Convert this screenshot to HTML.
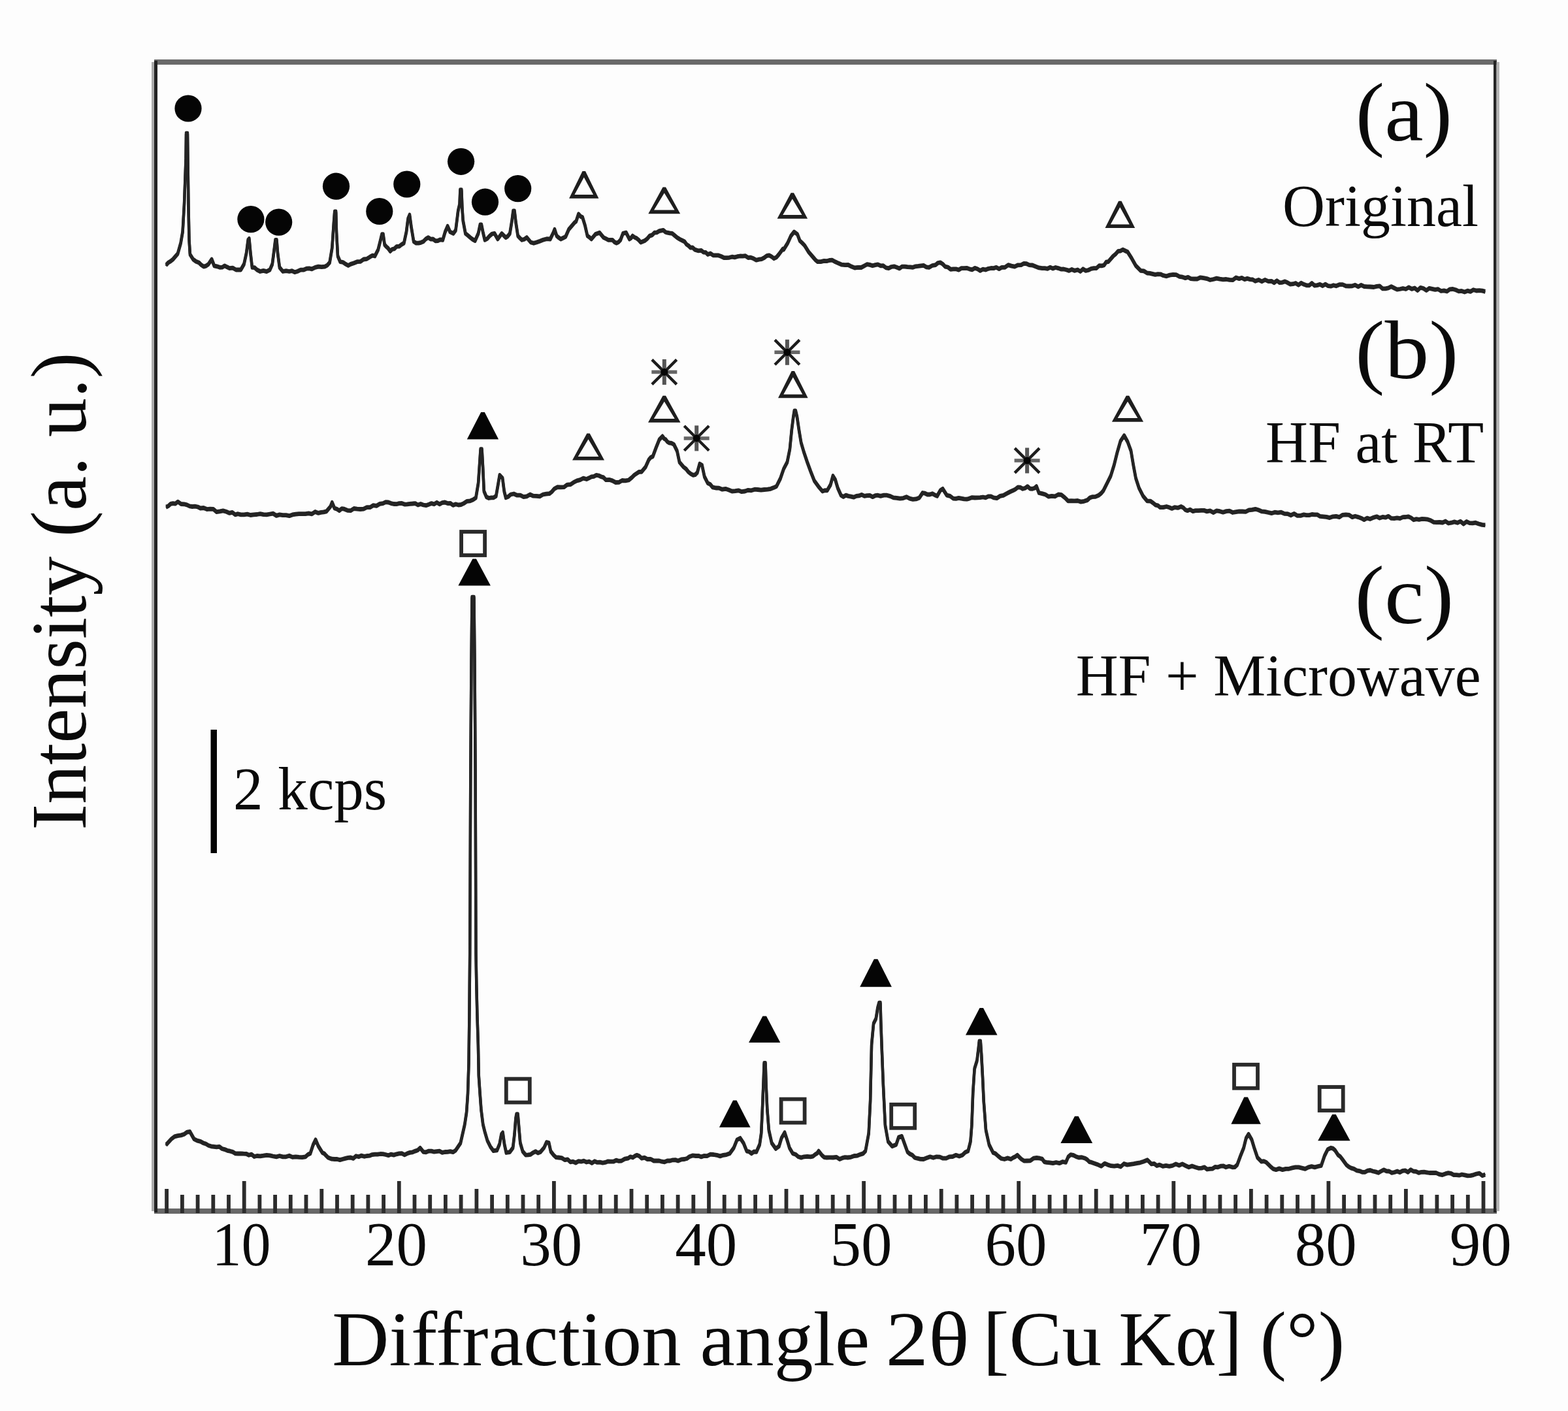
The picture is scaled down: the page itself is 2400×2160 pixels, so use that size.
<!DOCTYPE html>
<html lang="en"><head><meta charset="utf-8"><title>XRD patterns</title>
<style>html,body{margin:0;padding:0;background:#fdfdfd;}body{width:2400px;height:2160px;overflow:hidden;}svg{display:block;}text{font-family:"Liberation Serif", "DejaVu Serif", serif;fill:#0a0a0a;}</style></head><body>
<svg width="2400" height="2160" viewBox="0 0 2400 2160">
<rect width="2400" height="2160" fill="#fdfdfd"/>
<g id="frame">
<rect x="236" y="91" width="2055" height="8" fill="#6a6a6a"/>
<rect x="236" y="1850" width="2055" height="8" fill="#686868"/>
<rect x="232" y="95" width="4.5" height="1759" fill="#ababab"/>
<rect x="236" y="93" width="5" height="1763" fill="#232323"/>
<rect x="2286" y="93" width="4.6" height="1763" fill="#232323"/>
<rect x="2290.6" y="95" width="4.4" height="1759" fill="#b4b4b4"/>
</g>
<g id="ticks" fill="#2c2c2c">
<rect x="252.2" y="1820" width="5.8" height="37"/>
<rect x="276.0" y="1829" width="5.8" height="28"/>
<rect x="299.7" y="1829" width="5.8" height="28"/>
<rect x="323.4" y="1829" width="5.8" height="28"/>
<rect x="347.1" y="1829" width="5.8" height="28"/>
<rect x="370.8" y="1808" width="5.8" height="49"/>
<rect x="394.5" y="1829" width="5.8" height="28"/>
<rect x="418.2" y="1829" width="5.8" height="28"/>
<rect x="441.9" y="1829" width="5.8" height="28"/>
<rect x="465.6" y="1829" width="5.8" height="28"/>
<rect x="489.4" y="1820" width="5.8" height="37"/>
<rect x="513.1" y="1829" width="5.8" height="28"/>
<rect x="536.8" y="1829" width="5.8" height="28"/>
<rect x="560.5" y="1829" width="5.8" height="28"/>
<rect x="584.2" y="1829" width="5.8" height="28"/>
<rect x="607.9" y="1808" width="5.8" height="49"/>
<rect x="631.6" y="1829" width="5.8" height="28"/>
<rect x="655.3" y="1829" width="5.8" height="28"/>
<rect x="679.0" y="1829" width="5.8" height="28"/>
<rect x="702.7" y="1829" width="5.8" height="28"/>
<rect x="726.5" y="1820" width="5.8" height="37"/>
<rect x="750.2" y="1829" width="5.8" height="28"/>
<rect x="773.9" y="1829" width="5.8" height="28"/>
<rect x="797.6" y="1829" width="5.8" height="28"/>
<rect x="821.3" y="1829" width="5.8" height="28"/>
<rect x="845.0" y="1808" width="5.8" height="49"/>
<rect x="868.7" y="1829" width="5.8" height="28"/>
<rect x="892.4" y="1829" width="5.8" height="28"/>
<rect x="916.1" y="1829" width="5.8" height="28"/>
<rect x="939.8" y="1829" width="5.8" height="28"/>
<rect x="963.6" y="1820" width="5.8" height="37"/>
<rect x="987.3" y="1829" width="5.8" height="28"/>
<rect x="1011.0" y="1829" width="5.8" height="28"/>
<rect x="1034.7" y="1829" width="5.8" height="28"/>
<rect x="1058.4" y="1829" width="5.8" height="28"/>
<rect x="1082.1" y="1808" width="5.8" height="49"/>
<rect x="1105.8" y="1829" width="5.8" height="28"/>
<rect x="1129.5" y="1829" width="5.8" height="28"/>
<rect x="1153.2" y="1829" width="5.8" height="28"/>
<rect x="1176.9" y="1829" width="5.8" height="28"/>
<rect x="1200.6" y="1820" width="5.8" height="37"/>
<rect x="1224.4" y="1829" width="5.8" height="28"/>
<rect x="1248.1" y="1829" width="5.8" height="28"/>
<rect x="1271.8" y="1829" width="5.8" height="28"/>
<rect x="1295.5" y="1829" width="5.8" height="28"/>
<rect x="1319.2" y="1808" width="5.8" height="49"/>
<rect x="1342.9" y="1829" width="5.8" height="28"/>
<rect x="1366.6" y="1829" width="5.8" height="28"/>
<rect x="1390.3" y="1829" width="5.8" height="28"/>
<rect x="1414.0" y="1829" width="5.8" height="28"/>
<rect x="1437.8" y="1820" width="5.8" height="37"/>
<rect x="1461.5" y="1829" width="5.8" height="28"/>
<rect x="1485.2" y="1829" width="5.8" height="28"/>
<rect x="1508.9" y="1829" width="5.8" height="28"/>
<rect x="1532.6" y="1829" width="5.8" height="28"/>
<rect x="1556.3" y="1808" width="5.8" height="49"/>
<rect x="1580.0" y="1829" width="5.8" height="28"/>
<rect x="1603.7" y="1829" width="5.8" height="28"/>
<rect x="1627.4" y="1829" width="5.8" height="28"/>
<rect x="1651.1" y="1829" width="5.8" height="28"/>
<rect x="1674.8" y="1820" width="5.8" height="37"/>
<rect x="1698.6" y="1829" width="5.8" height="28"/>
<rect x="1722.3" y="1829" width="5.8" height="28"/>
<rect x="1746.0" y="1829" width="5.8" height="28"/>
<rect x="1769.7" y="1829" width="5.8" height="28"/>
<rect x="1793.4" y="1808" width="5.8" height="49"/>
<rect x="1817.1" y="1829" width="5.8" height="28"/>
<rect x="1840.8" y="1829" width="5.8" height="28"/>
<rect x="1864.5" y="1829" width="5.8" height="28"/>
<rect x="1888.2" y="1829" width="5.8" height="28"/>
<rect x="1912.0" y="1820" width="5.8" height="37"/>
<rect x="1935.7" y="1829" width="5.8" height="28"/>
<rect x="1959.4" y="1829" width="5.8" height="28"/>
<rect x="1983.1" y="1829" width="5.8" height="28"/>
<rect x="2006.8" y="1829" width="5.8" height="28"/>
<rect x="2030.5" y="1808" width="5.8" height="49"/>
<rect x="2054.2" y="1829" width="5.8" height="28"/>
<rect x="2077.9" y="1829" width="5.8" height="28"/>
<rect x="2101.6" y="1829" width="5.8" height="28"/>
<rect x="2125.3" y="1829" width="5.8" height="28"/>
<rect x="2149.0" y="1820" width="5.8" height="37"/>
<rect x="2172.8" y="1829" width="5.8" height="28"/>
<rect x="2196.5" y="1829" width="5.8" height="28"/>
<rect x="2220.2" y="1829" width="5.8" height="28"/>
<rect x="2243.9" y="1829" width="5.8" height="28"/>
<rect x="2267.6" y="1808" width="5.8" height="49"/>
</g>
<g id="curves" fill="none" stroke="#242424" stroke-width="4.4" stroke-linejoin="round" stroke-linecap="butt">
<path d="M254.1,405.9 L257.6,402.0 L261.2,399.8 L264.7,397.0 L272.1,388.3 L276.6,372.2 L279.6,354.9 L282.0,312.9 L284.5,243.6 L285.0,204.1 L287.0,204.1 L287.5,243.6 L288.5,317.8 L289.5,367.3 L290.9,389.5 L295.6,397.0 L300.0,400.3 L304.3,401.9 L308.0,405.5 L311.7,408.1 L315.4,407.1 L319.1,404.4 L324.1,397.0 L327.8,406.8 L332.1,407.8 L336.4,409.3 L340.1,409.2 L343.9,406.8 L347.6,408.8 L351.3,410.6 L356.2,410.1 L361.2,413.0 L364.9,412.8 L368.6,413.0 L373.5,404.4 L377.2,387.1 L379.7,367.3 L381.4,365.3 L383.4,387.1 L385.9,409.3 L389.6,409.6 L393.3,413.0 L398.2,415.5 L403.2,414.3 L408.1,415.6 L413.1,413.0 L416.8,404.4 L420.0,379.6 L421.5,367.3 L423.5,367.3 L425.0,387.1 L427.9,409.3 L432.9,415.5 L437.9,414.7 L442.8,415.5 L446.9,414.6 L451.0,416.7 L455.1,415.5 L460.1,413.1 L465.0,413.0 L469.1,411.2 L473.3,410.8 L477.4,411.8 L482.4,409.4 L487.3,408.1 L492.2,408.7 L497.2,408.1 L500.9,406.2 L504.6,401.9 L508.3,379.6 L510.8,342.6 L512.2,324.0 L514.2,324.0 L515.0,354.9 L517.0,392.0 L520.7,400.7 L525.0,401.5 L529.3,404.4 L533.0,406.5 L536.7,404.4 L541.7,402.8 L546.6,400.7 L551.5,400.4 L556.5,397.0 L561.5,396.3 L566.4,393.2 L570.1,391.2 L573.8,392.0 L578.8,382.1 L582.5,367.3 L584.5,358.6 L586.5,358.6 L588.7,374.7 L591.2,377.5 L593.6,379.6 L597.3,384.6 L600.4,381.5 L603.5,380.9 L607.2,377.3 L610.9,377.2 L614.6,374.4 L618.3,372.2 L622.0,354.9 L624.5,335.1 L627.0,329.0 L629.5,347.5 L633.2,369.8 L636.9,372.1 L640.6,372.2 L644.3,371.3 L648.0,369.8 L651.7,365.9 L655.4,363.6 L659.1,366.1 L662.8,366.0 L666.5,368.8 L670.3,368.5 L674.0,366.8 L677.7,367.3 L681.4,354.9 L685.1,346.3 L688.8,354.9 L693.8,357.4 L697.5,352.4 L701.2,322.8 L703.5,312.9 L704.4,290.6 L706.4,290.6 L707.4,317.8 L708.7,337.6 L712.4,357.4 L716.1,360.4 L719.8,363.6 L723.5,366.5 L727.2,368.5 L732.1,357.4 L734.9,343.8 L736.9,343.8 L739.1,354.9 L742.0,367.3 L745.8,365.3 L749.5,361.1 L753.2,358.0 L756.9,357.4 L761.8,366.0 L768.0,357.4 L771.1,360.6 L774.2,363.6 L777.3,361.6 L780.4,357.4 L783.6,337.6 L785.5,322.8 L787.5,322.8 L789.5,340.1 L792.7,361.1 L795.8,364.5 L798.9,367.3 L802.6,366.2 L806.3,363.6 L812.5,371.0 L816.9,372.3 L821.2,371.0 L826.2,369.2 L831.1,367.3 L836.7,365.7 L842.2,366.0 L846.4,357.4 L848.9,351.2 L852.1,361.1 L855.2,363.8 L858.3,366.0 L862.0,364.2 L865.7,362.3 L870.6,351.2 L876.8,343.8 L879.3,340.9 L881.8,338.8 L885.5,327.7 L888.5,331.2 L891.6,332.7 L895.4,345.0 L899.1,361.1 L902.2,363.2 L905.2,366.0 L911.4,358.6 L917.6,356.2 L923.8,363.6 L927.5,365.4 L931.2,367.3 L937.4,367.3 L940.5,370.5 L943.6,372.2 L946.7,370.6 L949.8,367.3 L953.5,357.4 L958.4,356.2 L963.4,366.0 L965.8,364.4 L968.3,361.1 L971.4,363.4 L974.5,364.8 L977.6,367.3 L980.7,371.0 L986.8,368.5 L990.5,365.6 L994.3,361.1 L998.0,359.9 L1001.7,356.2 L1005.4,355.8 L1009.1,353.7 L1015.3,352.4 L1018.4,355.2 L1021.5,356.2 L1025.2,356.9 L1028.9,357.4 L1032.6,360.5 L1036.3,363.6 L1040.7,366.3 L1045.0,368.5 L1047.9,370.0 L1050.7,373.9 L1053.6,375.9 L1056.9,379.1 L1060.2,379.0 L1063.5,382.1 L1068.5,383.8 L1073.4,383.4 L1076.7,386.1 L1080.0,386.3 L1083.3,389.5 L1087.4,388.0 L1091.5,390.8 L1095.6,390.8 L1099.7,390.9 L1103.9,392.5 L1108.0,394.5 L1112.1,394.6 L1116.3,394.3 L1120.4,393.2 L1124.5,393.9 L1128.6,392.7 L1132.7,392.0 L1136.8,392.1 L1141.0,391.7 L1145.1,394.5 L1149.2,394.2 L1153.4,395.8 L1157.5,398.2 L1161.6,397.1 L1165.7,396.6 L1169.8,394.5 L1173.5,391.6 L1177.3,390.8 L1181.0,392.9 L1184.7,395.7 L1188.4,393.8 L1192.1,389.5 L1198.3,380.9 L1199.5,382.1 L1205.6,372.2 L1210.6,361.1 L1215.5,354.9 L1220.5,358.6 L1224.2,368.5 L1227.9,372.0 L1231.6,375.9 L1237.8,385.8 L1245.2,394.5 L1248.3,398.1 L1251.4,400.7 L1256.3,400.6 L1261.3,399.4 L1265.4,399.7 L1269.5,398.5 L1273.6,398.2 L1278.5,400.8 L1283.5,403.1 L1288.5,405.2 L1293.4,405.6 L1298.3,405.5 L1303.3,408.1 L1308.2,410.0 L1313.2,409.3 L1318.2,409.5 L1323.1,406.8 L1327.2,404.7 L1331.4,405.4 L1335.5,406.8 L1339.6,405.6 L1343.7,404.9 L1347.8,406.8 L1351.9,406.7 L1356.1,409.9 L1360.2,410.6 L1364.3,408.5 L1368.5,407.8 L1372.6,409.3 L1376.7,410.9 L1380.8,408.1 L1384.9,408.1 L1389.0,408.7 L1393.2,408.8 L1397.3,409.3 L1401.4,407.8 L1405.5,407.4 L1409.6,406.8 L1413.7,406.4 L1417.9,408.8 L1422.0,409.3 L1427.0,406.5 L1431.9,405.6 L1435.6,402.5 L1439.3,401.9 L1443.0,404.2 L1446.7,408.1 L1450.8,409.0 L1455.0,412.3 L1459.1,411.8 L1463.2,411.8 L1467.4,413.1 L1471.5,410.6 L1475.6,410.6 L1479.7,410.4 L1483.8,411.8 L1487.9,412.8 L1492.1,410.4 L1496.2,411.8 L1500.3,414.4 L1504.5,412.1 L1508.6,413.0 L1512.7,411.3 L1516.8,410.5 L1520.9,410.6 L1525.0,409.3 L1529.2,411.6 L1533.3,409.3 L1538.2,409.3 L1543.2,405.6 L1548.2,407.1 L1553.1,408.1 L1558.0,405.8 L1563.0,405.6 L1567.1,403.3 L1571.2,403.7 L1575.3,405.6 L1580.2,406.0 L1585.2,408.1 L1590.2,409.9 L1595.1,410.6 L1599.2,410.7 L1603.4,411.3 L1607.5,409.3 L1611.6,411.1 L1615.7,409.5 L1619.8,410.6 L1623.9,412.1 L1628.1,412.0 L1632.2,413.0 L1636.3,414.4 L1640.5,412.5 L1644.6,414.3 L1649.5,413.0 L1653.6,415.5 L1657.7,411.8 L1661.8,414.3 L1665.9,413.5 L1670.1,411.3 L1674.2,410.6 L1678.3,410.5 L1682.4,406.7 L1686.5,406.8 L1689.8,406.0 L1693.1,401.2 L1696.4,400.7 L1703.9,392.0 L1707.6,388.8 L1711.3,384.6 L1715.0,384.1 L1718.7,382.1 L1722.4,384.0 L1726.1,385.8 L1732.3,395.7 L1738.5,406.8 L1745.9,414.3 L1750.8,414.9 L1755.8,418.0 L1759.9,418.3 L1764.1,419.4 L1768.2,420.4 L1772.3,419.6 L1776.4,419.8 L1780.5,421.7 L1785.5,422.8 L1790.4,421.1 L1795.4,420.4 L1800.3,420.7 L1805.3,423.4 L1810.2,424.2 L1814.3,425.6 L1818.5,424.3 L1822.6,426.6 L1827.5,427.0 L1832.5,427.0 L1837.4,424.8 L1842.4,425.7 L1847.3,426.6 L1852.2,428.5 L1857.2,427.5 L1862.1,426.1 L1867.1,427.2 L1872.0,427.9 L1876.9,427.5 L1881.9,428.3 L1886.8,428.7 L1891.8,425.0 L1896.7,426.6 L1900.8,425.3 L1905.0,427.6 L1909.1,426.4 L1913.2,427.6 L1917.4,428.0 L1921.5,430.3 L1926.4,428.4 L1931.4,430.9 L1936.3,428.4 L1941.3,430.6 L1946.2,430.3 L1950.3,432.8 L1954.4,429.6 L1958.6,432.7 L1962.7,432.3 L1966.8,430.9 L1970.9,432.8 L1975.0,435.2 L1979.1,434.7 L1983.2,433.5 L1987.4,436.2 L1991.5,433.2 L1995.6,435.3 L1999.7,436.8 L2003.9,436.9 L2008.0,433.5 L2012.1,437.2 L2016.3,436.6 L2020.4,435.3 L2024.5,437.5 L2028.6,435.2 L2032.8,437.6 L2036.9,438.2 L2041.0,436.7 L2045.1,437.8 L2050.0,435.7 L2055.0,435.6 L2059.9,437.8 L2064.9,438.0 L2069.8,437.8 L2074.3,436.3 L2078.9,438.8 L2083.4,436.4 L2087.9,438.5 L2092.5,438.8 L2097.0,439.0 L2102.8,439.5 L2107.2,438.4 L2111.7,437.9 L2116.2,441.9 L2120.6,441.9 L2125.1,440.9 L2129.5,438.6 L2134.0,441.0 L2138.4,443.2 L2142.9,442.5 L2147.3,441.5 L2151.8,442.5 L2156.3,439.8 L2160.8,442.4 L2165.3,441.0 L2169.8,444.6 L2174.2,440.3 L2178.7,441.5 L2183.2,444.6 L2187.7,441.3 L2192.2,442.3 L2196.7,443.4 L2201.2,442.7 L2205.7,445.5 L2210.2,444.8 L2214.7,446.0 L2219.2,442.8 L2223.7,442.5 L2228.2,443.8 L2232.7,445.9 L2237.2,445.4 L2241.7,447.0 L2246.2,445.2 L2250.7,446.4 L2255.3,443.7 L2259.8,445.0 L2264.3,444.7 L2268.9,445.2 L2273.4,446.4" transform="translate(0 -1.2)"/>
<path d="M254.1,405.9 L257.6,402.0 L261.2,399.8 L264.7,397.0 L272.1,388.3 L276.6,372.2 L279.6,354.9 L282.0,312.9 L284.5,243.6 L285.0,204.1 L287.0,204.1 L287.5,243.6 L288.5,317.8 L289.5,367.3 L290.9,389.5 L295.6,397.0 L300.0,400.3 L304.3,401.9 L308.0,405.5 L311.7,408.1 L315.4,407.1 L319.1,404.4 L324.1,397.0 L327.8,406.8 L332.1,407.8 L336.4,409.3 L340.1,409.2 L343.9,406.8 L347.6,408.8 L351.3,410.6 L356.2,410.1 L361.2,413.0 L364.9,412.8 L368.6,413.0 L373.5,404.4 L377.2,387.1 L379.7,367.3 L381.4,365.3 L383.4,387.1 L385.9,409.3 L389.6,409.6 L393.3,413.0 L398.2,415.5 L403.2,414.3 L408.1,415.6 L413.1,413.0 L416.8,404.4 L420.0,379.6 L421.5,367.3 L423.5,367.3 L425.0,387.1 L427.9,409.3 L432.9,415.5 L437.9,414.7 L442.8,415.5 L446.9,414.6 L451.0,416.7 L455.1,415.5 L460.1,413.1 L465.0,413.0 L469.1,411.2 L473.3,410.8 L477.4,411.8 L482.4,409.4 L487.3,408.1 L492.2,408.7 L497.2,408.1 L500.9,406.2 L504.6,401.9 L508.3,379.6 L510.8,342.6 L512.2,324.0 L514.2,324.0 L515.0,354.9 L517.0,392.0 L520.7,400.7 L525.0,401.5 L529.3,404.4 L533.0,406.5 L536.7,404.4 L541.7,402.8 L546.6,400.7 L551.5,400.4 L556.5,397.0 L561.5,396.3 L566.4,393.2 L570.1,391.2 L573.8,392.0 L578.8,382.1 L582.5,367.3 L584.5,358.6 L586.5,358.6 L588.7,374.7 L591.2,377.5 L593.6,379.6 L597.3,384.6 L600.4,381.5 L603.5,380.9 L607.2,377.3 L610.9,377.2 L614.6,374.4 L618.3,372.2 L622.0,354.9 L624.5,335.1 L627.0,329.0 L629.5,347.5 L633.2,369.8 L636.9,372.1 L640.6,372.2 L644.3,371.3 L648.0,369.8 L651.7,365.9 L655.4,363.6 L659.1,366.1 L662.8,366.0 L666.5,368.8 L670.3,368.5 L674.0,366.8 L677.7,367.3 L681.4,354.9 L685.1,346.3 L688.8,354.9 L693.8,357.4 L697.5,352.4 L701.2,322.8 L703.5,312.9 L704.4,290.6 L706.4,290.6 L707.4,317.8 L708.7,337.6 L712.4,357.4 L716.1,360.4 L719.8,363.6 L723.5,366.5 L727.2,368.5 L732.1,357.4 L734.9,343.8 L736.9,343.8 L739.1,354.9 L742.0,367.3 L745.8,365.3 L749.5,361.1 L753.2,358.0 L756.9,357.4 L761.8,366.0 L768.0,357.4 L771.1,360.6 L774.2,363.6 L777.3,361.6 L780.4,357.4 L783.6,337.6 L785.5,322.8 L787.5,322.8 L789.5,340.1 L792.7,361.1 L795.8,364.5 L798.9,367.3 L802.6,366.2 L806.3,363.6 L812.5,371.0 L816.9,372.3 L821.2,371.0 L826.2,369.2 L831.1,367.3 L836.7,365.7 L842.2,366.0 L846.4,357.4 L848.9,351.2 L852.1,361.1 L855.2,363.8 L858.3,366.0 L862.0,364.2 L865.7,362.3 L870.6,351.2 L876.8,343.8 L879.3,340.9 L881.8,338.8 L885.5,327.7 L888.5,331.2 L891.6,332.7 L895.4,345.0 L899.1,361.1 L902.2,363.2 L905.2,366.0 L911.4,358.6 L917.6,356.2 L923.8,363.6 L927.5,365.4 L931.2,367.3 L937.4,367.3 L940.5,370.5 L943.6,372.2 L946.7,370.6 L949.8,367.3 L953.5,357.4 L958.4,356.2 L963.4,366.0 L965.8,364.4 L968.3,361.1 L971.4,363.4 L974.5,364.8 L977.6,367.3 L980.7,371.0 L986.8,368.5 L990.5,365.6 L994.3,361.1 L998.0,359.9 L1001.7,356.2 L1005.4,355.8 L1009.1,353.7 L1015.3,352.4 L1018.4,355.2 L1021.5,356.2 L1025.2,356.9 L1028.9,357.4 L1032.6,360.5 L1036.3,363.6 L1040.7,366.3 L1045.0,368.5 L1047.9,370.0 L1050.7,373.9 L1053.6,375.9 L1056.9,379.1 L1060.2,379.0 L1063.5,382.1 L1068.5,383.8 L1073.4,383.4 L1076.7,386.1 L1080.0,386.3 L1083.3,389.5 L1087.4,388.0 L1091.5,390.8 L1095.6,390.8 L1099.7,390.9 L1103.9,392.5 L1108.0,394.5 L1112.1,394.6 L1116.3,394.3 L1120.4,393.2 L1124.5,393.9 L1128.6,392.7 L1132.7,392.0 L1136.8,392.1 L1141.0,391.7 L1145.1,394.5 L1149.2,394.2 L1153.4,395.8 L1157.5,398.2 L1161.6,397.1 L1165.7,396.6 L1169.8,394.5 L1173.5,391.6 L1177.3,390.8 L1181.0,392.9 L1184.7,395.7 L1188.4,393.8 L1192.1,389.5 L1198.3,380.9 L1199.5,382.1 L1205.6,372.2 L1210.6,361.1 L1215.5,354.9 L1220.5,358.6 L1224.2,368.5 L1227.9,372.0 L1231.6,375.9 L1237.8,385.8 L1245.2,394.5 L1248.3,398.1 L1251.4,400.7 L1256.3,400.6 L1261.3,399.4 L1265.4,399.7 L1269.5,398.5 L1273.6,398.2 L1278.5,400.8 L1283.5,403.1 L1288.5,405.2 L1293.4,405.6 L1298.3,405.5 L1303.3,408.1 L1308.2,410.0 L1313.2,409.3 L1318.2,409.5 L1323.1,406.8 L1327.2,404.7 L1331.4,405.4 L1335.5,406.8 L1339.6,405.6 L1343.7,404.9 L1347.8,406.8 L1351.9,406.7 L1356.1,409.9 L1360.2,410.6 L1364.3,408.5 L1368.5,407.8 L1372.6,409.3 L1376.7,410.9 L1380.8,408.1 L1384.9,408.1 L1389.0,408.7 L1393.2,408.8 L1397.3,409.3 L1401.4,407.8 L1405.5,407.4 L1409.6,406.8 L1413.7,406.4 L1417.9,408.8 L1422.0,409.3 L1427.0,406.5 L1431.9,405.6 L1435.6,402.5 L1439.3,401.9 L1443.0,404.2 L1446.7,408.1 L1450.8,409.0 L1455.0,412.3 L1459.1,411.8 L1463.2,411.8 L1467.4,413.1 L1471.5,410.6 L1475.6,410.6 L1479.7,410.4 L1483.8,411.8 L1487.9,412.8 L1492.1,410.4 L1496.2,411.8 L1500.3,414.4 L1504.5,412.1 L1508.6,413.0 L1512.7,411.3 L1516.8,410.5 L1520.9,410.6 L1525.0,409.3 L1529.2,411.6 L1533.3,409.3 L1538.2,409.3 L1543.2,405.6 L1548.2,407.1 L1553.1,408.1 L1558.0,405.8 L1563.0,405.6 L1567.1,403.3 L1571.2,403.7 L1575.3,405.6 L1580.2,406.0 L1585.2,408.1 L1590.2,409.9 L1595.1,410.6 L1599.2,410.7 L1603.4,411.3 L1607.5,409.3 L1611.6,411.1 L1615.7,409.5 L1619.8,410.6 L1623.9,412.1 L1628.1,412.0 L1632.2,413.0 L1636.3,414.4 L1640.5,412.5 L1644.6,414.3 L1649.5,413.0 L1653.6,415.5 L1657.7,411.8 L1661.8,414.3 L1665.9,413.5 L1670.1,411.3 L1674.2,410.6 L1678.3,410.5 L1682.4,406.7 L1686.5,406.8 L1689.8,406.0 L1693.1,401.2 L1696.4,400.7 L1703.9,392.0 L1707.6,388.8 L1711.3,384.6 L1715.0,384.1 L1718.7,382.1 L1722.4,384.0 L1726.1,385.8 L1732.3,395.7 L1738.5,406.8 L1745.9,414.3 L1750.8,414.9 L1755.8,418.0 L1759.9,418.3 L1764.1,419.4 L1768.2,420.4 L1772.3,419.6 L1776.4,419.8 L1780.5,421.7 L1785.5,422.8 L1790.4,421.1 L1795.4,420.4 L1800.3,420.7 L1805.3,423.4 L1810.2,424.2 L1814.3,425.6 L1818.5,424.3 L1822.6,426.6 L1827.5,427.0 L1832.5,427.0 L1837.4,424.8 L1842.4,425.7 L1847.3,426.6 L1852.2,428.5 L1857.2,427.5 L1862.1,426.1 L1867.1,427.2 L1872.0,427.9 L1876.9,427.5 L1881.9,428.3 L1886.8,428.7 L1891.8,425.0 L1896.7,426.6 L1900.8,425.3 L1905.0,427.6 L1909.1,426.4 L1913.2,427.6 L1917.4,428.0 L1921.5,430.3 L1926.4,428.4 L1931.4,430.9 L1936.3,428.4 L1941.3,430.6 L1946.2,430.3 L1950.3,432.8 L1954.4,429.6 L1958.6,432.7 L1962.7,432.3 L1966.8,430.9 L1970.9,432.8 L1975.0,435.2 L1979.1,434.7 L1983.2,433.5 L1987.4,436.2 L1991.5,433.2 L1995.6,435.3 L1999.7,436.8 L2003.9,436.9 L2008.0,433.5 L2012.1,437.2 L2016.3,436.6 L2020.4,435.3 L2024.5,437.5 L2028.6,435.2 L2032.8,437.6 L2036.9,438.2 L2041.0,436.7 L2045.1,437.8 L2050.0,435.7 L2055.0,435.6 L2059.9,437.8 L2064.9,438.0 L2069.8,437.8 L2074.3,436.3 L2078.9,438.8 L2083.4,436.4 L2087.9,438.5 L2092.5,438.8 L2097.0,439.0 L2102.8,439.5 L2107.2,438.4 L2111.7,437.9 L2116.2,441.9 L2120.6,441.9 L2125.1,440.9 L2129.5,438.6 L2134.0,441.0 L2138.4,443.2 L2142.9,442.5 L2147.3,441.5 L2151.8,442.5 L2156.3,439.8 L2160.8,442.4 L2165.3,441.0 L2169.8,444.6 L2174.2,440.3 L2178.7,441.5 L2183.2,444.6 L2187.7,441.3 L2192.2,442.3 L2196.7,443.4 L2201.2,442.7 L2205.7,445.5 L2210.2,444.8 L2214.7,446.0 L2219.2,442.8 L2223.7,442.5 L2228.2,443.8 L2232.7,445.9 L2237.2,445.4 L2241.7,447.0 L2246.2,445.2 L2250.7,446.4 L2255.3,443.7 L2259.8,445.0 L2264.3,444.7 L2268.9,445.2 L2273.4,446.4" transform="translate(0 1.2)"/>
<path d="M254.1,776.2 L257.6,774.6 L261.2,771.4 L264.7,770.6 L268.4,771.1 L272.1,768.1 L277.1,771.5 L282.0,771.8 L286.1,772.9 L290.3,774.9 L294.4,775.5 L298.5,775.2 L302.7,776.0 L306.8,778.0 L311.7,777.5 L316.7,779.6 L321.6,779.2 L326.5,779.3 L331.5,783.6 L336.4,782.9 L341.4,781.9 L346.3,783.3 L351.3,785.4 L355.6,784.3 L360.0,787.8 L364.3,786.7 L368.6,787.9 L373.6,787.8 L378.5,787.1 L383.4,788.5 L388.4,787.9 L393.3,787.5 L398.3,786.6 L403.2,787.6 L408.2,787.9 L413.1,787.0 L418.0,786.1 L423.0,789.4 L427.9,787.9 L432.8,788.7 L437.8,788.7 L442.8,789.7 L447.7,787.9 L452.6,787.1 L457.6,786.7 L462.6,786.6 L467.5,786.6 L472.4,785.9 L477.4,786.8 L482.4,783.5 L487.3,785.4 L491.4,784.4 L495.5,783.9 L499.6,782.9 L505.8,775.5 L508.3,769.3 L512.0,778.0 L515.7,779.3 L519.4,781.7 L523.1,778.6 L526.8,779.2 L531.8,781.3 L536.7,781.7 L541.7,778.5 L546.6,779.2 L551.5,779.5 L556.5,779.2 L561.5,776.6 L566.4,776.7 L571.3,773.6 L576.3,774.3 L581.2,771.3 L586.2,770.6 L590.3,768.6 L594.5,769.0 L598.6,770.6 L602.7,771.5 L606.8,771.7 L610.9,770.6 L615.0,770.4 L619.2,772.1 L623.3,771.8 L627.4,771.3 L631.5,771.0 L635.6,770.6 L639.7,773.0 L643.9,771.4 L648.0,773.0 L652.1,773.7 L656.3,772.2 L660.4,770.6 L664.5,771.8 L668.6,769.2 L672.7,771.8 L676.8,769.6 L681.0,769.0 L685.1,770.6 L689.2,770.3 L693.4,773.4 L697.5,771.8 L701.6,773.0 L705.7,772.5 L709.8,770.6 L714.8,767.3 L719.7,766.8 L724.0,765.0 L728.4,761.9 L732.1,739.6 L734.6,702.6 L735.6,687.7 L737.6,687.7 L739.1,714.9 L740.8,752.0 L744.5,760.7 L748.2,762.5 L751.9,761.9 L755.6,761.8 L759.3,759.4 L762.3,742.1 L764.8,727.3 L769.2,732.2 L771.7,752.0 L774.2,761.9 L777.9,760.3 L781.6,757.0 L786.5,756.0 L791.5,758.2 L796.5,758.2 L801.4,760.7 L806.3,759.9 L811.3,757.0 L816.2,759.2 L821.2,759.4 L826.2,759.8 L831.1,757.0 L836.0,756.1 L840.9,755.7 L844.6,752.9 L848.4,748.3 L853.3,745.6 L858.3,745.8 L863.2,745.7 L868.2,742.1 L873.1,741.7 L878.0,738.4 L883.0,735.9 L887.9,734.7 L892.8,732.2 L897.8,733.5 L901.5,731.8 L905.2,729.8 L909.0,729.3 L912.7,727.3 L916.4,728.0 L920.1,729.8 L923.8,730.9 L927.5,734.7 L932.5,734.3 L937.4,735.9 L942.3,738.5 L947.3,738.4 L952.2,735.5 L957.2,735.9 L962.2,735.0 L967.1,731.0 L970.8,727.2 L974.5,724.8 L978.2,722.4 L981.9,722.3 L988.1,714.9 L993.0,703.8 L996.1,700.2 L999.2,698.8 L1004.2,685.2 L1009.1,672.9 L1014.0,667.9 L1016.5,671.5 L1019.0,672.9 L1021.5,676.3 L1023.9,677.8 L1027.7,678.4 L1031.4,680.3 L1036.3,690.2 L1040.0,707.5 L1046.2,714.9 L1049.9,717.7 L1053.6,722.3 L1057.3,725.3 L1061.0,727.3 L1064.1,726.7 L1067.2,723.6 L1070.9,710.0 L1074.6,712.4 L1078.3,729.8 L1083.3,739.6 L1087.0,741.4 L1090.7,745.8 L1095.7,747.0 L1100.6,747.1 L1105.5,749.2 L1110.5,748.3 L1115.5,750.0 L1120.4,752.0 L1125.3,751.7 L1130.3,750.8 L1135.2,752.7 L1140.2,752.0 L1145.1,750.3 L1150.0,750.8 L1155.0,749.2 L1159.9,749.5 L1164.8,750.2 L1169.8,749.5 L1174.8,749.1 L1179.7,748.3 L1184.1,746.6 L1188.4,744.6 L1194.6,732.2 L1199.5,717.9 L1204.9,707.5 L1208.9,687.7 L1211.8,658.0 L1214.3,638.3 L1215.8,628.9 L1217.8,628.9 L1220.0,638.3 L1222.9,658.0 L1226.2,677.8 L1230.6,692.7 L1235.6,707.5 L1241.0,722.3 L1246.4,735.9 L1252.6,744.6 L1258.8,752.0 L1262.5,750.7 L1266.2,750.8 L1271.2,742.1 L1274.9,728.5 L1278.6,734.7 L1282.3,747.1 L1287.2,758.2 L1290.9,760.5 L1294.7,758.1 L1298.4,759.4 L1302.5,760.2 L1306.6,761.2 L1310.7,759.4 L1314.8,758.9 L1319.0,757.3 L1323.1,759.4 L1327.2,758.6 L1331.4,758.4 L1335.5,760.7 L1339.6,758.7 L1343.7,758.2 L1347.8,759.4 L1352.8,758.1 L1357.7,758.2 L1362.7,759.6 L1367.6,761.9 L1372.5,762.3 L1377.5,763.1 L1382.5,762.6 L1387.4,760.7 L1392.3,763.2 L1397.3,764.4 L1402.2,763.9 L1407.2,761.9 L1412.1,754.5 L1415.8,755.2 L1419.5,757.0 L1423.2,757.0 L1427.0,755.7 L1430.7,757.7 L1434.4,759.4 L1439.3,750.8 L1443.0,748.3 L1449.2,758.2 L1454.2,759.4 L1459.1,763.1 L1463.2,763.3 L1467.4,762.3 L1471.5,763.1 L1475.6,763.9 L1479.7,764.2 L1483.8,763.1 L1487.9,761.6 L1492.1,762.0 L1496.2,761.9 L1500.3,761.7 L1504.5,761.0 L1508.6,761.9 L1512.7,759.8 L1516.8,759.8 L1520.9,761.9 L1525.8,762.6 L1530.8,759.4 L1535.8,758.4 L1540.7,755.7 L1545.7,753.0 L1550.6,750.8 L1554.3,748.8 L1558.0,745.8 L1561.7,746.2 L1565.4,748.3 L1569.1,747.2 L1572.8,744.6 L1576.5,748.0 L1580.3,748.3 L1583.3,747.3 L1586.4,744.6 L1590.2,754.5 L1595.1,755.6 L1600.0,757.0 L1605.0,760.2 L1609.9,759.4 L1614.8,759.9 L1619.8,757.0 L1624.2,757.3 L1628.5,760.7 L1631.6,763.5 L1634.7,766.8 L1639.7,766.6 L1644.6,766.8 L1649.5,766.5 L1654.4,768.1 L1659.3,767.3 L1664.3,765.6 L1668.0,762.1 L1671.7,760.7 L1676.7,760.4 L1681.6,758.2 L1685.3,755.3 L1689.0,750.8 L1695.2,738.4 L1700.1,728.5 L1705.1,712.4 L1710.0,692.7 L1715.0,675.4 L1720.7,666.7 L1726.1,676.6 L1731.1,690.2 L1734.8,712.4 L1738.5,732.2 L1743.4,747.1 L1749.6,759.4 L1755.8,766.8 L1760.8,767.1 L1765.7,770.6 L1769.0,773.2 L1772.3,773.9 L1775.6,776.7 L1780.5,776.7 L1785.5,775.5 L1789.6,776.7 L1793.7,778.4 L1797.8,776.7 L1802.8,777.4 L1807.7,775.5 L1811.0,777.1 L1814.3,780.4 L1817.6,781.7 L1821.7,780.1 L1825.9,782.7 L1830.0,781.7 L1834.3,781.6 L1838.7,781.3 L1843.0,781.4 L1847.3,782.9 L1852.2,781.9 L1857.2,784.7 L1862.1,781.9 L1867.1,782.7 L1872.0,784.2 L1876.9,782.6 L1881.9,782.1 L1886.8,784.5 L1891.8,783.6 L1896.7,782.9 L1901.7,783.0 L1906.6,783.4 L1911.5,780.8 L1916.5,780.4 L1921.5,779.3 L1926.4,780.8 L1931.4,782.9 L1936.3,783.3 L1941.2,784.5 L1946.2,785.7 L1951.1,784.2 L1956.0,784.8 L1961.0,784.2 L1966.0,786.4 L1970.9,786.6 L1975.8,788.8 L1980.8,786.4 L1985.7,789.3 L1990.7,789.4 L1995.6,787.9 L1999.7,788.6 L2003.9,788.6 L2008.0,787.5 L2012.1,787.8 L2016.3,787.9 L2020.4,790.3 L2025.3,790.8 L2030.3,791.3 L2035.2,792.6 L2040.2,790.8 L2045.1,790.3 L2050.0,791.6 L2055.0,788.3 L2059.9,787.9 L2064.9,788.4 L2069.8,791.6 L2074.3,790.2 L2078.9,791.6 L2083.4,793.2 L2087.9,795.7 L2092.5,793.1 L2097.0,794.5 L2102.8,792.1 L2107.2,790.8 L2111.7,793.0 L2116.2,791.4 L2120.6,792.2 L2125.1,790.3 L2129.5,793.4 L2134.0,793.7 L2138.4,792.9 L2142.9,793.6 L2147.3,791.6 L2151.4,791.5 L2155.5,790.8 L2159.7,792.6 L2163.8,795.8 L2167.9,794.6 L2172.0,795.3 L2176.5,794.4 L2181.0,794.7 L2185.5,795.2 L2190.0,796.8 L2194.5,799.4 L2199.0,799.7 L2203.5,799.5 L2208.0,800.0 L2212.5,798.0 L2217.0,801.0 L2221.5,800.2 L2226.1,798.9 L2230.8,800.3 L2235.4,798.1 L2240.1,802.0 L2244.7,798.5 L2249.3,800.6 L2254.0,800.9 L2258.6,800.2 L2263.5,802.0 L2268.5,803.4 L2273.4,803.9" transform="translate(0 -1.2)"/>
<path d="M254.1,776.2 L257.6,774.6 L261.2,771.4 L264.7,770.6 L268.4,771.1 L272.1,768.1 L277.1,771.5 L282.0,771.8 L286.1,772.9 L290.3,774.9 L294.4,775.5 L298.5,775.2 L302.7,776.0 L306.8,778.0 L311.7,777.5 L316.7,779.6 L321.6,779.2 L326.5,779.3 L331.5,783.6 L336.4,782.9 L341.4,781.9 L346.3,783.3 L351.3,785.4 L355.6,784.3 L360.0,787.8 L364.3,786.7 L368.6,787.9 L373.6,787.8 L378.5,787.1 L383.4,788.5 L388.4,787.9 L393.3,787.5 L398.3,786.6 L403.2,787.6 L408.2,787.9 L413.1,787.0 L418.0,786.1 L423.0,789.4 L427.9,787.9 L432.8,788.7 L437.8,788.7 L442.8,789.7 L447.7,787.9 L452.6,787.1 L457.6,786.7 L462.6,786.6 L467.5,786.6 L472.4,785.9 L477.4,786.8 L482.4,783.5 L487.3,785.4 L491.4,784.4 L495.5,783.9 L499.6,782.9 L505.8,775.5 L508.3,769.3 L512.0,778.0 L515.7,779.3 L519.4,781.7 L523.1,778.6 L526.8,779.2 L531.8,781.3 L536.7,781.7 L541.7,778.5 L546.6,779.2 L551.5,779.5 L556.5,779.2 L561.5,776.6 L566.4,776.7 L571.3,773.6 L576.3,774.3 L581.2,771.3 L586.2,770.6 L590.3,768.6 L594.5,769.0 L598.6,770.6 L602.7,771.5 L606.8,771.7 L610.9,770.6 L615.0,770.4 L619.2,772.1 L623.3,771.8 L627.4,771.3 L631.5,771.0 L635.6,770.6 L639.7,773.0 L643.9,771.4 L648.0,773.0 L652.1,773.7 L656.3,772.2 L660.4,770.6 L664.5,771.8 L668.6,769.2 L672.7,771.8 L676.8,769.6 L681.0,769.0 L685.1,770.6 L689.2,770.3 L693.4,773.4 L697.5,771.8 L701.6,773.0 L705.7,772.5 L709.8,770.6 L714.8,767.3 L719.7,766.8 L724.0,765.0 L728.4,761.9 L732.1,739.6 L734.6,702.6 L735.6,687.7 L737.6,687.7 L739.1,714.9 L740.8,752.0 L744.5,760.7 L748.2,762.5 L751.9,761.9 L755.6,761.8 L759.3,759.4 L762.3,742.1 L764.8,727.3 L769.2,732.2 L771.7,752.0 L774.2,761.9 L777.9,760.3 L781.6,757.0 L786.5,756.0 L791.5,758.2 L796.5,758.2 L801.4,760.7 L806.3,759.9 L811.3,757.0 L816.2,759.2 L821.2,759.4 L826.2,759.8 L831.1,757.0 L836.0,756.1 L840.9,755.7 L844.6,752.9 L848.4,748.3 L853.3,745.6 L858.3,745.8 L863.2,745.7 L868.2,742.1 L873.1,741.7 L878.0,738.4 L883.0,735.9 L887.9,734.7 L892.8,732.2 L897.8,733.5 L901.5,731.8 L905.2,729.8 L909.0,729.3 L912.7,727.3 L916.4,728.0 L920.1,729.8 L923.8,730.9 L927.5,734.7 L932.5,734.3 L937.4,735.9 L942.3,738.5 L947.3,738.4 L952.2,735.5 L957.2,735.9 L962.2,735.0 L967.1,731.0 L970.8,727.2 L974.5,724.8 L978.2,722.4 L981.9,722.3 L988.1,714.9 L993.0,703.8 L996.1,700.2 L999.2,698.8 L1004.2,685.2 L1009.1,672.9 L1014.0,667.9 L1016.5,671.5 L1019.0,672.9 L1021.5,676.3 L1023.9,677.8 L1027.7,678.4 L1031.4,680.3 L1036.3,690.2 L1040.0,707.5 L1046.2,714.9 L1049.9,717.7 L1053.6,722.3 L1057.3,725.3 L1061.0,727.3 L1064.1,726.7 L1067.2,723.6 L1070.9,710.0 L1074.6,712.4 L1078.3,729.8 L1083.3,739.6 L1087.0,741.4 L1090.7,745.8 L1095.7,747.0 L1100.6,747.1 L1105.5,749.2 L1110.5,748.3 L1115.5,750.0 L1120.4,752.0 L1125.3,751.7 L1130.3,750.8 L1135.2,752.7 L1140.2,752.0 L1145.1,750.3 L1150.0,750.8 L1155.0,749.2 L1159.9,749.5 L1164.8,750.2 L1169.8,749.5 L1174.8,749.1 L1179.7,748.3 L1184.1,746.6 L1188.4,744.6 L1194.6,732.2 L1199.5,717.9 L1204.9,707.5 L1208.9,687.7 L1211.8,658.0 L1214.3,638.3 L1215.8,628.9 L1217.8,628.9 L1220.0,638.3 L1222.9,658.0 L1226.2,677.8 L1230.6,692.7 L1235.6,707.5 L1241.0,722.3 L1246.4,735.9 L1252.6,744.6 L1258.8,752.0 L1262.5,750.7 L1266.2,750.8 L1271.2,742.1 L1274.9,728.5 L1278.6,734.7 L1282.3,747.1 L1287.2,758.2 L1290.9,760.5 L1294.7,758.1 L1298.4,759.4 L1302.5,760.2 L1306.6,761.2 L1310.7,759.4 L1314.8,758.9 L1319.0,757.3 L1323.1,759.4 L1327.2,758.6 L1331.4,758.4 L1335.5,760.7 L1339.6,758.7 L1343.7,758.2 L1347.8,759.4 L1352.8,758.1 L1357.7,758.2 L1362.7,759.6 L1367.6,761.9 L1372.5,762.3 L1377.5,763.1 L1382.5,762.6 L1387.4,760.7 L1392.3,763.2 L1397.3,764.4 L1402.2,763.9 L1407.2,761.9 L1412.1,754.5 L1415.8,755.2 L1419.5,757.0 L1423.2,757.0 L1427.0,755.7 L1430.7,757.7 L1434.4,759.4 L1439.3,750.8 L1443.0,748.3 L1449.2,758.2 L1454.2,759.4 L1459.1,763.1 L1463.2,763.3 L1467.4,762.3 L1471.5,763.1 L1475.6,763.9 L1479.7,764.2 L1483.8,763.1 L1487.9,761.6 L1492.1,762.0 L1496.2,761.9 L1500.3,761.7 L1504.5,761.0 L1508.6,761.9 L1512.7,759.8 L1516.8,759.8 L1520.9,761.9 L1525.8,762.6 L1530.8,759.4 L1535.8,758.4 L1540.7,755.7 L1545.7,753.0 L1550.6,750.8 L1554.3,748.8 L1558.0,745.8 L1561.7,746.2 L1565.4,748.3 L1569.1,747.2 L1572.8,744.6 L1576.5,748.0 L1580.3,748.3 L1583.3,747.3 L1586.4,744.6 L1590.2,754.5 L1595.1,755.6 L1600.0,757.0 L1605.0,760.2 L1609.9,759.4 L1614.8,759.9 L1619.8,757.0 L1624.2,757.3 L1628.5,760.7 L1631.6,763.5 L1634.7,766.8 L1639.7,766.6 L1644.6,766.8 L1649.5,766.5 L1654.4,768.1 L1659.3,767.3 L1664.3,765.6 L1668.0,762.1 L1671.7,760.7 L1676.7,760.4 L1681.6,758.2 L1685.3,755.3 L1689.0,750.8 L1695.2,738.4 L1700.1,728.5 L1705.1,712.4 L1710.0,692.7 L1715.0,675.4 L1720.7,666.7 L1726.1,676.6 L1731.1,690.2 L1734.8,712.4 L1738.5,732.2 L1743.4,747.1 L1749.6,759.4 L1755.8,766.8 L1760.8,767.1 L1765.7,770.6 L1769.0,773.2 L1772.3,773.9 L1775.6,776.7 L1780.5,776.7 L1785.5,775.5 L1789.6,776.7 L1793.7,778.4 L1797.8,776.7 L1802.8,777.4 L1807.7,775.5 L1811.0,777.1 L1814.3,780.4 L1817.6,781.7 L1821.7,780.1 L1825.9,782.7 L1830.0,781.7 L1834.3,781.6 L1838.7,781.3 L1843.0,781.4 L1847.3,782.9 L1852.2,781.9 L1857.2,784.7 L1862.1,781.9 L1867.1,782.7 L1872.0,784.2 L1876.9,782.6 L1881.9,782.1 L1886.8,784.5 L1891.8,783.6 L1896.7,782.9 L1901.7,783.0 L1906.6,783.4 L1911.5,780.8 L1916.5,780.4 L1921.5,779.3 L1926.4,780.8 L1931.4,782.9 L1936.3,783.3 L1941.2,784.5 L1946.2,785.7 L1951.1,784.2 L1956.0,784.8 L1961.0,784.2 L1966.0,786.4 L1970.9,786.6 L1975.8,788.8 L1980.8,786.4 L1985.7,789.3 L1990.7,789.4 L1995.6,787.9 L1999.7,788.6 L2003.9,788.6 L2008.0,787.5 L2012.1,787.8 L2016.3,787.9 L2020.4,790.3 L2025.3,790.8 L2030.3,791.3 L2035.2,792.6 L2040.2,790.8 L2045.1,790.3 L2050.0,791.6 L2055.0,788.3 L2059.9,787.9 L2064.9,788.4 L2069.8,791.6 L2074.3,790.2 L2078.9,791.6 L2083.4,793.2 L2087.9,795.7 L2092.5,793.1 L2097.0,794.5 L2102.8,792.1 L2107.2,790.8 L2111.7,793.0 L2116.2,791.4 L2120.6,792.2 L2125.1,790.3 L2129.5,793.4 L2134.0,793.7 L2138.4,792.9 L2142.9,793.6 L2147.3,791.6 L2151.4,791.5 L2155.5,790.8 L2159.7,792.6 L2163.8,795.8 L2167.9,794.6 L2172.0,795.3 L2176.5,794.4 L2181.0,794.7 L2185.5,795.2 L2190.0,796.8 L2194.5,799.4 L2199.0,799.7 L2203.5,799.5 L2208.0,800.0 L2212.5,798.0 L2217.0,801.0 L2221.5,800.2 L2226.1,798.9 L2230.8,800.3 L2235.4,798.1 L2240.1,802.0 L2244.7,798.5 L2249.3,800.6 L2254.0,800.9 L2258.6,800.2 L2263.5,802.0 L2268.5,803.4 L2273.4,803.9" transform="translate(0 1.2)"/>
<path d="M254.1,1752.7 L262.3,1743.6 L267.2,1739.9 L272.1,1738.6 L277.1,1737.9 L282.0,1736.2 L286.4,1733.1 L290.7,1732.4 L296.9,1743.6 L301.9,1746.2 L306.8,1747.3 L310.9,1749.7 L315.0,1751.0 L319.1,1753.5 L323.2,1754.8 L327.4,1755.4 L331.5,1755.9 L335.6,1755.3 L339.8,1758.5 L343.9,1759.6 L348.0,1761.3 L352.1,1762.2 L356.2,1763.4 L360.3,1765.8 L364.5,1766.0 L368.6,1765.8 L372.7,1766.1 L376.8,1766.3 L380.9,1768.3 L385.0,1767.1 L389.2,1770.5 L393.3,1769.5 L398.3,1769.9 L403.2,1769.2 L408.2,1768.3 L413.1,1768.9 L418.1,1770.0 L423.0,1770.8 L427.9,1769.5 L432.9,1770.9 L437.8,1770.8 L442.8,1769.2 L447.7,1771.4 L452.7,1770.8 L457.6,1771.4 L462.6,1771.6 L467.5,1770.8 L471.2,1767.5 L474.9,1765.8 L479.4,1752.2 L483.1,1744.8 L487.3,1754.7 L493.5,1764.6 L496.4,1766.0 L499.2,1769.1 L502.1,1772.0 L507.1,1774.0 L512.0,1774.5 L516.1,1774.5 L520.3,1775.6 L524.4,1774.5 L528.5,1773.4 L532.6,1772.4 L536.7,1772.0 L540.8,1773.4 L545.0,1769.7 L549.1,1770.8 L553.2,1769.1 L557.4,1770.3 L561.5,1769.5 L565.6,1769.2 L569.7,1767.6 L573.8,1767.1 L577.9,1767.2 L582.1,1766.5 L586.2,1766.6 L590.3,1767.5 L594.5,1768.7 L598.6,1767.1 L602.7,1768.1 L606.8,1766.8 L610.9,1765.8 L615.0,1765.7 L619.2,1767.9 L623.3,1765.8 L627.4,1764.4 L631.5,1763.8 L635.6,1762.1 L639.4,1760.8 L643.1,1757.2 L648.0,1763.4 L652.1,1763.8 L656.3,1762.1 L660.4,1762.1 L664.5,1763.2 L668.6,1762.6 L672.7,1762.1 L676.8,1764.3 L681.0,1763.5 L685.1,1763.4 L689.2,1762.7 L693.4,1763.7 L697.5,1760.9 L704.9,1749.8 L711.3,1721.5 L714.1,1702.9 L716.0,1674.8 L717.5,1628.1 L718.4,1553.4 L719.2,1460.0 L720.3,1179.8 L721.5,1010.0 L722.5,914.1 L725.5,914.1 L726.5,1010.0 L727.6,1179.8 L728.5,1460.0 L729.3,1506.7 L730.4,1553.4 L731.9,1600.1 L732.8,1646.8 L734.7,1674.8 L736.5,1699.1 L739.3,1721.5 L742.1,1732.7 L745.9,1745.8 L750.5,1755.2 L755.2,1761.7 L760.8,1760.8 L764.6,1751.4 L767.4,1736.5 L769.6,1733.7 L772.0,1751.4 L774.8,1764.5 L780.4,1763.6 L785.1,1757.0 L787.5,1736.5 L789.4,1712.2 L790.6,1705.7 L792.6,1705.7 L793.9,1721.5 L796.3,1749.6 L800.1,1762.6 L804.7,1768.2 L808.5,1767.9 L812.2,1767.3 L816.0,1764.6 L819.7,1762.6 L823.4,1765.0 L827.1,1763.6 L832.7,1757.0 L836.5,1748.6 L840.2,1749.6 L843.0,1762.6 L847.4,1768.3 L851.1,1771.7 L854.8,1772.0 L859.8,1772.6 L864.7,1775.7 L868.8,1774.8 L873.0,1778.8 L877.1,1778.2 L881.2,1780.0 L885.4,1777.7 L889.5,1778.2 L893.6,1777.1 L897.7,1779.0 L901.8,1778.2 L905.9,1780.5 L910.1,1777.7 L914.2,1779.4 L918.3,1779.2 L922.4,1780.1 L926.5,1779.4 L930.6,1777.8 L934.8,1778.2 L938.9,1778.2 L943.0,1776.2 L947.2,1777.3 L951.3,1777.0 L956.2,1774.1 L961.2,1773.2 L964.9,1770.8 L968.6,1772.0 L971.7,1769.8 L974.8,1768.3 L978.5,1769.7 L982.2,1773.2 L986.5,1772.2 L990.8,1774.5 L995.8,1774.3 L1000.7,1777.0 L1004.8,1777.0 L1009.0,1777.0 L1013.1,1778.2 L1017.2,1778.8 L1021.4,1777.0 L1025.5,1777.0 L1029.6,1775.8 L1033.7,1775.6 L1037.8,1777.0 L1042.8,1774.9 L1047.7,1774.5 L1051.4,1773.5 L1055.1,1770.8 L1060.0,1768.9 L1065.0,1769.5 L1069.1,1769.3 L1073.3,1770.9 L1077.4,1769.5 L1082.3,1769.6 L1087.3,1767.1 L1092.2,1767.5 L1097.2,1768.3 L1102.2,1769.9 L1107.1,1768.3 L1112.0,1767.6 L1117.0,1765.8 L1123.1,1757.2 L1128.1,1744.8 L1133.0,1742.3 L1138.0,1749.8 L1142.9,1762.1 L1146.6,1763.0 L1150.3,1765.8 L1154.0,1763.0 L1157.8,1763.4 L1162.7,1752.2 L1165.2,1734.9 L1166.9,1697.8 L1168.9,1648.4 L1169.6,1627.3 L1171.6,1627.3 L1172.6,1660.7 L1174.3,1697.8 L1176.8,1730.0 L1181.2,1749.8 L1187.4,1758.4 L1192.4,1754.7 L1196.1,1742.3 L1201.0,1733.7 L1204.7,1744.8 L1208.4,1757.2 L1213.4,1765.8 L1217.7,1767.2 L1222.0,1770.8 L1226.3,1772.1 L1230.7,1770.8 L1235.7,1770.3 L1240.6,1770.8 L1244.3,1770.1 L1248.0,1767.1 L1250.5,1765.7 L1253.0,1762.1 L1257.9,1768.3 L1261.6,1771.6 L1265.3,1772.0 L1270.2,1771.9 L1275.2,1772.0 L1280.2,1771.3 L1285.1,1774.5 L1289.2,1772.7 L1293.4,1771.7 L1297.5,1772.0 L1302.5,1771.3 L1307.4,1769.5 L1312.3,1769.1 L1317.3,1767.1 L1321.0,1765.9 L1324.7,1762.1 L1329.7,1734.9 L1332.1,1685.5 L1334.1,1598.9 L1337.1,1566.8 L1340.8,1559.3 L1343.3,1543.3 L1345.5,1535.1 L1347.5,1535.1 L1348.2,1561.8 L1349.5,1598.9 L1351.9,1660.7 L1354.9,1722.6 L1359.3,1747.3 L1365.5,1754.7 L1371.7,1752.2 L1375.4,1741.1 L1380.4,1739.4 L1384.1,1749.8 L1389.0,1763.4 L1392.7,1766.5 L1396.4,1768.3 L1400.2,1772.2 L1403.9,1773.2 L1408.8,1774.4 L1413.7,1774.5 L1418.7,1772.6 L1423.6,1770.8 L1428.5,1772.3 L1433.5,1770.8 L1438.5,1771.1 L1443.4,1773.2 L1448.3,1773.1 L1453.3,1770.8 L1458.2,1770.5 L1463.2,1768.3 L1468.2,1770.0 L1473.1,1768.3 L1477.4,1763.9 L1481.8,1762.1 L1485.5,1747.3 L1487.4,1722.6 L1489.2,1673.1 L1491.6,1636.0 L1495.4,1623.6 L1497.8,1603.9 L1498.8,1594.0 L1500.8,1594.0 L1502.3,1616.2 L1504.0,1648.4 L1505.7,1685.5 L1509.0,1730.0 L1513.9,1752.2 L1520.1,1764.6 L1523.8,1766.1 L1527.5,1769.5 L1532.5,1773.5 L1537.4,1774.5 L1542.3,1772.9 L1547.3,1774.5 L1550.6,1772.3 L1553.9,1770.7 L1557.2,1768.3 L1560.3,1771.4 L1563.4,1774.5 L1567.7,1777.2 L1572.0,1777.0 L1577.0,1776.8 L1581.9,1773.2 L1586.8,1772.5 L1591.8,1773.2 L1595.1,1774.1 L1598.4,1778.6 L1601.7,1779.4 L1606.7,1779.9 L1611.6,1780.7 L1616.5,1779.5 L1621.5,1780.7 L1626.5,1778.5 L1631.4,1779.4 L1635.1,1770.8 L1638.8,1767.7 L1642.5,1768.3 L1646.8,1770.4 L1651.1,1772.0 L1656.0,1771.7 L1661.0,1773.2 L1664.3,1775.4 L1667.6,1778.7 L1670.9,1779.4 L1675.8,1781.2 L1680.8,1783.1 L1685.7,1785.2 L1690.7,1781.1 L1695.6,1783.1 L1700.6,1784.7 L1705.5,1785.1 L1710.5,1784.4 L1715.4,1786.0 L1720.4,1781.5 L1725.3,1783.1 L1730.3,1782.3 L1735.2,1781.7 L1740.2,1780.7 L1745.1,1779.8 L1750.0,1778.2 L1756.2,1775.7 L1759.3,1778.7 L1762.4,1781.9 L1766.5,1781.3 L1770.7,1784.5 L1774.8,1783.1 L1779.8,1785.4 L1784.7,1784.4 L1789.7,1785.3 L1794.6,1784.4 L1799.8,1781.9 L1804.8,1784.0 L1809.7,1781.9 L1814.7,1784.5 L1819.6,1786.8 L1824.5,1784.9 L1829.5,1786.8 L1834.4,1788.3 L1839.3,1788.1 L1843.4,1786.8 L1847.6,1790.0 L1851.7,1789.3 L1855.8,1789.1 L1860.0,1786.4 L1864.1,1786.8 L1868.2,1785.2 L1872.3,1784.8 L1876.4,1786.8 L1881.3,1785.3 L1886.3,1786.8 L1890.0,1786.6 L1893.7,1783.1 L1898.7,1769.5 L1903.6,1757.2 L1907.3,1742.3 L1911.1,1736.2 L1916.0,1744.8 L1919.7,1757.2 L1924.7,1772.0 L1930.8,1778.2 L1934.5,1777.6 L1938.3,1779.4 L1944.4,1785.6 L1948.8,1789.4 L1953.1,1790.6 L1958.0,1788.9 L1963.0,1790.6 L1968.0,1789.3 L1972.9,1789.3 L1977.8,1787.9 L1982.8,1786.8 L1987.8,1786.8 L1992.7,1788.1 L1997.7,1789.4 L2002.6,1786.8 L2007.5,1785.6 L2012.4,1786.8 L2017.3,1785.5 L2022.3,1784.4 L2027.3,1769.5 L2032.2,1759.6 L2037.2,1757.2 L2040.3,1758.1 L2043.4,1760.9 L2048.3,1768.3 L2051.4,1770.5 L2054.5,1774.5 L2060.7,1783.1 L2064.4,1786.2 L2068.1,1788.1 L2072.4,1789.4 L2076.7,1791.8 L2080.8,1792.6 L2085.0,1794.3 L2089.1,1794.3 L2093.2,1792.1 L2097.4,1791.5 L2101.5,1793.0 L2105.6,1793.9 L2109.7,1795.3 L2113.8,1793.0 L2117.9,1790.8 L2122.1,1792.8 L2126.2,1793.0 L2130.3,1795.3 L2134.5,1794.5 L2138.6,1793.0 L2142.7,1794.7 L2146.8,1792.3 L2150.9,1791.8 L2155.0,1794.3 L2159.2,1790.7 L2163.3,1793.0 L2167.4,1793.3 L2171.5,1795.4 L2175.6,1794.3 L2179.7,1794.2 L2183.9,1794.8 L2188.0,1795.5 L2192.9,1795.5 L2197.9,1795.4 L2202.8,1797.6 L2207.8,1798.6 L2212.7,1796.7 L2216.8,1795.7 L2221.0,1796.3 L2225.1,1798.7 L2229.2,1798.7 L2233.4,1799.2 L2237.5,1798.0 L2242.0,1798.8 L2246.4,1799.9 L2250.9,1799.6 L2255.4,1798.6 L2259.9,1797.0 L2264.4,1796.1 L2268.8,1799.7 L2273.3,1798.0" transform="translate(0 -1.2)"/>
<path d="M254.1,1752.7 L262.3,1743.6 L267.2,1739.9 L272.1,1738.6 L277.1,1737.9 L282.0,1736.2 L286.4,1733.1 L290.7,1732.4 L296.9,1743.6 L301.9,1746.2 L306.8,1747.3 L310.9,1749.7 L315.0,1751.0 L319.1,1753.5 L323.2,1754.8 L327.4,1755.4 L331.5,1755.9 L335.6,1755.3 L339.8,1758.5 L343.9,1759.6 L348.0,1761.3 L352.1,1762.2 L356.2,1763.4 L360.3,1765.8 L364.5,1766.0 L368.6,1765.8 L372.7,1766.1 L376.8,1766.3 L380.9,1768.3 L385.0,1767.1 L389.2,1770.5 L393.3,1769.5 L398.3,1769.9 L403.2,1769.2 L408.2,1768.3 L413.1,1768.9 L418.1,1770.0 L423.0,1770.8 L427.9,1769.5 L432.9,1770.9 L437.8,1770.8 L442.8,1769.2 L447.7,1771.4 L452.7,1770.8 L457.6,1771.4 L462.6,1771.6 L467.5,1770.8 L471.2,1767.5 L474.9,1765.8 L479.4,1752.2 L483.1,1744.8 L487.3,1754.7 L493.5,1764.6 L496.4,1766.0 L499.2,1769.1 L502.1,1772.0 L507.1,1774.0 L512.0,1774.5 L516.1,1774.5 L520.3,1775.6 L524.4,1774.5 L528.5,1773.4 L532.6,1772.4 L536.7,1772.0 L540.8,1773.4 L545.0,1769.7 L549.1,1770.8 L553.2,1769.1 L557.4,1770.3 L561.5,1769.5 L565.6,1769.2 L569.7,1767.6 L573.8,1767.1 L577.9,1767.2 L582.1,1766.5 L586.2,1766.6 L590.3,1767.5 L594.5,1768.7 L598.6,1767.1 L602.7,1768.1 L606.8,1766.8 L610.9,1765.8 L615.0,1765.7 L619.2,1767.9 L623.3,1765.8 L627.4,1764.4 L631.5,1763.8 L635.6,1762.1 L639.4,1760.8 L643.1,1757.2 L648.0,1763.4 L652.1,1763.8 L656.3,1762.1 L660.4,1762.1 L664.5,1763.2 L668.6,1762.6 L672.7,1762.1 L676.8,1764.3 L681.0,1763.5 L685.1,1763.4 L689.2,1762.7 L693.4,1763.7 L697.5,1760.9 L704.9,1749.8 L711.3,1721.5 L714.1,1702.9 L716.0,1674.8 L717.5,1628.1 L718.4,1553.4 L719.2,1460.0 L720.3,1179.8 L721.5,1010.0 L722.5,914.1 L725.5,914.1 L726.5,1010.0 L727.6,1179.8 L728.5,1460.0 L729.3,1506.7 L730.4,1553.4 L731.9,1600.1 L732.8,1646.8 L734.7,1674.8 L736.5,1699.1 L739.3,1721.5 L742.1,1732.7 L745.9,1745.8 L750.5,1755.2 L755.2,1761.7 L760.8,1760.8 L764.6,1751.4 L767.4,1736.5 L769.6,1733.7 L772.0,1751.4 L774.8,1764.5 L780.4,1763.6 L785.1,1757.0 L787.5,1736.5 L789.4,1712.2 L790.6,1705.7 L792.6,1705.7 L793.9,1721.5 L796.3,1749.6 L800.1,1762.6 L804.7,1768.2 L808.5,1767.9 L812.2,1767.3 L816.0,1764.6 L819.7,1762.6 L823.4,1765.0 L827.1,1763.6 L832.7,1757.0 L836.5,1748.6 L840.2,1749.6 L843.0,1762.6 L847.4,1768.3 L851.1,1771.7 L854.8,1772.0 L859.8,1772.6 L864.7,1775.7 L868.8,1774.8 L873.0,1778.8 L877.1,1778.2 L881.2,1780.0 L885.4,1777.7 L889.5,1778.2 L893.6,1777.1 L897.7,1779.0 L901.8,1778.2 L905.9,1780.5 L910.1,1777.7 L914.2,1779.4 L918.3,1779.2 L922.4,1780.1 L926.5,1779.4 L930.6,1777.8 L934.8,1778.2 L938.9,1778.2 L943.0,1776.2 L947.2,1777.3 L951.3,1777.0 L956.2,1774.1 L961.2,1773.2 L964.9,1770.8 L968.6,1772.0 L971.7,1769.8 L974.8,1768.3 L978.5,1769.7 L982.2,1773.2 L986.5,1772.2 L990.8,1774.5 L995.8,1774.3 L1000.7,1777.0 L1004.8,1777.0 L1009.0,1777.0 L1013.1,1778.2 L1017.2,1778.8 L1021.4,1777.0 L1025.5,1777.0 L1029.6,1775.8 L1033.7,1775.6 L1037.8,1777.0 L1042.8,1774.9 L1047.7,1774.5 L1051.4,1773.5 L1055.1,1770.8 L1060.0,1768.9 L1065.0,1769.5 L1069.1,1769.3 L1073.3,1770.9 L1077.4,1769.5 L1082.3,1769.6 L1087.3,1767.1 L1092.2,1767.5 L1097.2,1768.3 L1102.2,1769.9 L1107.1,1768.3 L1112.0,1767.6 L1117.0,1765.8 L1123.1,1757.2 L1128.1,1744.8 L1133.0,1742.3 L1138.0,1749.8 L1142.9,1762.1 L1146.6,1763.0 L1150.3,1765.8 L1154.0,1763.0 L1157.8,1763.4 L1162.7,1752.2 L1165.2,1734.9 L1166.9,1697.8 L1168.9,1648.4 L1169.6,1627.3 L1171.6,1627.3 L1172.6,1660.7 L1174.3,1697.8 L1176.8,1730.0 L1181.2,1749.8 L1187.4,1758.4 L1192.4,1754.7 L1196.1,1742.3 L1201.0,1733.7 L1204.7,1744.8 L1208.4,1757.2 L1213.4,1765.8 L1217.7,1767.2 L1222.0,1770.8 L1226.3,1772.1 L1230.7,1770.8 L1235.7,1770.3 L1240.6,1770.8 L1244.3,1770.1 L1248.0,1767.1 L1250.5,1765.7 L1253.0,1762.1 L1257.9,1768.3 L1261.6,1771.6 L1265.3,1772.0 L1270.2,1771.9 L1275.2,1772.0 L1280.2,1771.3 L1285.1,1774.5 L1289.2,1772.7 L1293.4,1771.7 L1297.5,1772.0 L1302.5,1771.3 L1307.4,1769.5 L1312.3,1769.1 L1317.3,1767.1 L1321.0,1765.9 L1324.7,1762.1 L1329.7,1734.9 L1332.1,1685.5 L1334.1,1598.9 L1337.1,1566.8 L1340.8,1559.3 L1343.3,1543.3 L1345.5,1535.1 L1347.5,1535.1 L1348.2,1561.8 L1349.5,1598.9 L1351.9,1660.7 L1354.9,1722.6 L1359.3,1747.3 L1365.5,1754.7 L1371.7,1752.2 L1375.4,1741.1 L1380.4,1739.4 L1384.1,1749.8 L1389.0,1763.4 L1392.7,1766.5 L1396.4,1768.3 L1400.2,1772.2 L1403.9,1773.2 L1408.8,1774.4 L1413.7,1774.5 L1418.7,1772.6 L1423.6,1770.8 L1428.5,1772.3 L1433.5,1770.8 L1438.5,1771.1 L1443.4,1773.2 L1448.3,1773.1 L1453.3,1770.8 L1458.2,1770.5 L1463.2,1768.3 L1468.2,1770.0 L1473.1,1768.3 L1477.4,1763.9 L1481.8,1762.1 L1485.5,1747.3 L1487.4,1722.6 L1489.2,1673.1 L1491.6,1636.0 L1495.4,1623.6 L1497.8,1603.9 L1498.8,1594.0 L1500.8,1594.0 L1502.3,1616.2 L1504.0,1648.4 L1505.7,1685.5 L1509.0,1730.0 L1513.9,1752.2 L1520.1,1764.6 L1523.8,1766.1 L1527.5,1769.5 L1532.5,1773.5 L1537.4,1774.5 L1542.3,1772.9 L1547.3,1774.5 L1550.6,1772.3 L1553.9,1770.7 L1557.2,1768.3 L1560.3,1771.4 L1563.4,1774.5 L1567.7,1777.2 L1572.0,1777.0 L1577.0,1776.8 L1581.9,1773.2 L1586.8,1772.5 L1591.8,1773.2 L1595.1,1774.1 L1598.4,1778.6 L1601.7,1779.4 L1606.7,1779.9 L1611.6,1780.7 L1616.5,1779.5 L1621.5,1780.7 L1626.5,1778.5 L1631.4,1779.4 L1635.1,1770.8 L1638.8,1767.7 L1642.5,1768.3 L1646.8,1770.4 L1651.1,1772.0 L1656.0,1771.7 L1661.0,1773.2 L1664.3,1775.4 L1667.6,1778.7 L1670.9,1779.4 L1675.8,1781.2 L1680.8,1783.1 L1685.7,1785.2 L1690.7,1781.1 L1695.6,1783.1 L1700.6,1784.7 L1705.5,1785.1 L1710.5,1784.4 L1715.4,1786.0 L1720.4,1781.5 L1725.3,1783.1 L1730.3,1782.3 L1735.2,1781.7 L1740.2,1780.7 L1745.1,1779.8 L1750.0,1778.2 L1756.2,1775.7 L1759.3,1778.7 L1762.4,1781.9 L1766.5,1781.3 L1770.7,1784.5 L1774.8,1783.1 L1779.8,1785.4 L1784.7,1784.4 L1789.7,1785.3 L1794.6,1784.4 L1799.8,1781.9 L1804.8,1784.0 L1809.7,1781.9 L1814.7,1784.5 L1819.6,1786.8 L1824.5,1784.9 L1829.5,1786.8 L1834.4,1788.3 L1839.3,1788.1 L1843.4,1786.8 L1847.6,1790.0 L1851.7,1789.3 L1855.8,1789.1 L1860.0,1786.4 L1864.1,1786.8 L1868.2,1785.2 L1872.3,1784.8 L1876.4,1786.8 L1881.3,1785.3 L1886.3,1786.8 L1890.0,1786.6 L1893.7,1783.1 L1898.7,1769.5 L1903.6,1757.2 L1907.3,1742.3 L1911.1,1736.2 L1916.0,1744.8 L1919.7,1757.2 L1924.7,1772.0 L1930.8,1778.2 L1934.5,1777.6 L1938.3,1779.4 L1944.4,1785.6 L1948.8,1789.4 L1953.1,1790.6 L1958.0,1788.9 L1963.0,1790.6 L1968.0,1789.3 L1972.9,1789.3 L1977.8,1787.9 L1982.8,1786.8 L1987.8,1786.8 L1992.7,1788.1 L1997.7,1789.4 L2002.6,1786.8 L2007.5,1785.6 L2012.4,1786.8 L2017.3,1785.5 L2022.3,1784.4 L2027.3,1769.5 L2032.2,1759.6 L2037.2,1757.2 L2040.3,1758.1 L2043.4,1760.9 L2048.3,1768.3 L2051.4,1770.5 L2054.5,1774.5 L2060.7,1783.1 L2064.4,1786.2 L2068.1,1788.1 L2072.4,1789.4 L2076.7,1791.8 L2080.8,1792.6 L2085.0,1794.3 L2089.1,1794.3 L2093.2,1792.1 L2097.4,1791.5 L2101.5,1793.0 L2105.6,1793.9 L2109.7,1795.3 L2113.8,1793.0 L2117.9,1790.8 L2122.1,1792.8 L2126.2,1793.0 L2130.3,1795.3 L2134.5,1794.5 L2138.6,1793.0 L2142.7,1794.7 L2146.8,1792.3 L2150.9,1791.8 L2155.0,1794.3 L2159.2,1790.7 L2163.3,1793.0 L2167.4,1793.3 L2171.5,1795.4 L2175.6,1794.3 L2179.7,1794.2 L2183.9,1794.8 L2188.0,1795.5 L2192.9,1795.5 L2197.9,1795.4 L2202.8,1797.6 L2207.8,1798.6 L2212.7,1796.7 L2216.8,1795.7 L2221.0,1796.3 L2225.1,1798.7 L2229.2,1798.7 L2233.4,1799.2 L2237.5,1798.0 L2242.0,1798.8 L2246.4,1799.9 L2250.9,1799.6 L2255.4,1798.6 L2259.9,1797.0 L2264.4,1796.1 L2268.8,1799.7 L2273.3,1798.0" transform="translate(0 1.2)"/>
</g>
<g id="markers">
<circle cx="288" cy="166" r="20.6" fill="#050505"/>
<circle cx="383.9" cy="335.6" r="20.6" fill="#050505"/>
<circle cx="426.7" cy="340.1" r="20.6" fill="#050505"/>
<circle cx="514.5" cy="285.2" r="20.6" fill="#050505"/>
<circle cx="580.8" cy="323.5" r="20.6" fill="#050505"/>
<circle cx="622.8" cy="282" r="20.6" fill="#050505"/>
<circle cx="705.6" cy="247.3" r="20.6" fill="#050505"/>
<circle cx="742.5" cy="309.2" r="20.6" fill="#050505"/>
<circle cx="792.7" cy="288.6" r="20.6" fill="#050505"/>
<polygon points="891.5,261.9 896.0,261.9 916.4,303.7 871.1,303.7" fill="#1e1e1e"/><polygon points="893.8,271.6 908.1,298.1 879.4,298.1" fill="#fdfdfd"/>
<polygon points="1014.5,286.6 1019.0,286.6 1041.2,327.2 992.3,327.2" fill="#1e1e1e"/><polygon points="1016.8,295.5 1032.5,321.6 1001.0,321.6" fill="#fdfdfd"/>
<polygon points="1210.6,295.3 1215.0,295.3 1236.1,334.7 1189.6,334.7" fill="#1e1e1e"/><polygon points="1212.8,304.4 1227.5,329.1 1198.2,329.1" fill="#fdfdfd"/>
<polygon points="1712.1,307.7 1716.5,307.7 1737.2,349.0 1691.5,349.0" fill="#1e1e1e"/><polygon points="1714.3,317.2 1728.8,343.4 1699.9,343.4" fill="#fdfdfd"/>
<polygon points="898.3,663.5 902.7,663.5 925.0,704.6 876.0,704.6" fill="#1e1e1e"/><polygon points="900.5,672.5 916.3,699.0 884.7,699.0" fill="#fdfdfd"/>
<polygon points="1014.5,605.8 1019.0,605.8 1041.5,646.7 992.0,646.7" fill="#1e1e1e"/><polygon points="1016.8,614.7 1032.7,641.1 1000.8,641.1" fill="#fdfdfd"/>
<polygon points="1211.6,568.0 1216.0,568.0 1236.6,609.3 1191.0,609.3" fill="#1e1e1e"/><polygon points="1213.8,577.5 1228.3,603.7 1199.3,603.7" fill="#fdfdfd"/>
<polygon points="1723.8,605.8 1728.2,605.8 1750.1,645.7 1701.9,645.7" fill="#1e1e1e"/><polygon points="1726.0,614.7 1741.3,640.1 1710.7,640.1" fill="#fdfdfd"/>
<polygon points="736.2,631.1 741.8,631.1 763.1,672.4 714.8,672.4" fill="#050505"/>
<polygon points="723.4,855.6 728.9,855.6 750.9,896.6 701.4,896.6" fill="#050505"/>
<polygon points="1122.0,1684.5 1127.5,1684.5 1148.6,1725.8 1100.9,1725.8" fill="#050505"/>
<polygon points="1167.4,1555.4 1173.0,1555.4 1194.3,1596.0 1146.1,1596.0" fill="#050505"/>
<polygon points="1337.8,1468.2 1343.4,1468.2 1364.9,1510.8 1316.2,1510.8" fill="#050505"/>
<polygon points="1499.5,1543.0 1505.0,1543.0 1526.5,1584.4 1478.0,1584.4" fill="#050505"/>
<polygon points="1645.0,1708.7 1650.6,1708.7 1672.2,1750.1 1623.4,1750.1" fill="#050505"/>
<polygon points="1904.3,1679.5 1909.9,1679.5 1929.8,1720.8 1884.4,1720.8" fill="#050505"/>
<polygon points="2039.1,1706.0 2044.7,1706.0 2066.6,1746.3 2017.2,1746.3" fill="#050505"/>
<rect x="706.1" y="814.0" width="36.0" height="36.0" fill="#fff" stroke="#2a2a2a" stroke-width="5.8"/>
<rect x="774.8" y="1651.6" width="36.0" height="36.0" fill="#fff" stroke="#2a2a2a" stroke-width="5.8"/>
<rect x="1195.6" y="1682.6" width="36.0" height="36.0" fill="#fff" stroke="#2a2a2a" stroke-width="5.8"/>
<rect x="1364.2" y="1690.8" width="36.0" height="36.0" fill="#fff" stroke="#2a2a2a" stroke-width="5.8"/>
<rect x="1889.0" y="1629.8" width="36.0" height="36.0" fill="#fff" stroke="#2a2a2a" stroke-width="5.8"/>
<rect x="2019.7" y="1664.0" width="36.0" height="36.0" fill="#fff" stroke="#2a2a2a" stroke-width="5.8"/>
<g stroke="#1c1c1c" stroke-width="4.4" stroke-linecap="butt"><line x1="997.9" y1="550.6" x2="1035.7" y2="588.4"/><line x1="997.9" y1="588.4" x2="1035.7" y2="550.6"/><line x1="1016.8" y1="550.0" x2="1016.8" y2="589.0" stroke="#555" stroke-width="6"/><line x1="997.3" y1="569.5" x2="1036.3" y2="569.5" stroke="#666" stroke-width="5.5"/><circle cx="1016.8" cy="569.5" r="5.6" fill="#050505" stroke="none"/></g>
<g stroke="#1c1c1c" stroke-width="4.4" stroke-linecap="butt"><line x1="1047.3" y1="652.0" x2="1085.1" y2="689.8"/><line x1="1047.3" y1="689.8" x2="1085.1" y2="652.0"/><line x1="1066.2" y1="651.4" x2="1066.2" y2="690.4" stroke="#555" stroke-width="6"/><line x1="1046.7" y1="670.9" x2="1085.7" y2="670.9" stroke="#666" stroke-width="5.5"/><circle cx="1066.2" cy="670.9" r="5.6" fill="#050505" stroke="none"/></g>
<g stroke="#1c1c1c" stroke-width="4.4" stroke-linecap="butt"><line x1="1186.0" y1="520.4" x2="1223.8" y2="558.2"/><line x1="1186.0" y1="558.2" x2="1223.8" y2="520.4"/><line x1="1204.9" y1="519.8" x2="1204.9" y2="558.8" stroke="#555" stroke-width="6"/><line x1="1185.4" y1="539.3" x2="1224.4" y2="539.3" stroke="#666" stroke-width="5.5"/><circle cx="1204.9" cy="539.3" r="5.6" fill="#050505" stroke="none"/></g>
<g stroke="#1c1c1c" stroke-width="4.4" stroke-linecap="butt"><line x1="1553.2" y1="686.1" x2="1591.0" y2="723.9"/><line x1="1553.2" y1="723.9" x2="1591.0" y2="686.1"/><line x1="1572.1" y1="685.5" x2="1572.1" y2="724.5" stroke="#555" stroke-width="6"/><line x1="1552.6" y1="705.0" x2="1591.6" y2="705.0" stroke="#666" stroke-width="5.5"/><circle cx="1572.1" cy="705.0" r="5.6" fill="#050505" stroke="none"/></g>
</g>
<rect id="bar" x="322.5" y="1117" width="9.5" height="189" fill="#050505"/>
<text id="ta" transform="translate(2074.76 215.2) scale(1.0443 1)" font-size="128" text-anchor="start">(a)</text>
<text id="tb" transform="translate(2074.29 578.9) scale(1.0594 1)" font-size="128" text-anchor="start">(b)</text>
<text id="tc" transform="translate(2073.6 954.0) scale(1.0669 1)" font-size="128" text-anchor="start">(c)</text>
<text id="to" transform="translate(1963.04 346.3) scale(0.9889 1)" font-size="91" text-anchor="start">Original</text>
<text id="th" transform="translate(1937.06 707.6) scale(0.9772 1)" font-size="92" text-anchor="start">HF at RT</text>
<text id="tm" transform="translate(1646.65 1065.2) scale(0.9773 1)" font-size="92" text-anchor="start">HF + Microwave</text>
<text id="tk" transform="translate(357.1 1239.2) scale(0.9789 1)" font-size="93" text-anchor="start">2 kcps</text>
<text id="tx" y="2089.8" font-size="119"><tspan x="508.2" textLength="534.4" lengthAdjust="spacingAndGlyphs">Diffraction</tspan> <tspan x="1071.5" textLength="259.8" lengthAdjust="spacingAndGlyphs">angle</tspan> <tspan x="1355.6" textLength="128.3" lengthAdjust="spacingAndGlyphs">2θ</tspan> <tspan x="1504.2" textLength="181.9" lengthAdjust="spacingAndGlyphs">[Cu</tspan> <tspan x="1712.2" textLength="189.3" lengthAdjust="spacingAndGlyphs">Kα]</tspan> <tspan x="1928.5" textLength="129.8" lengthAdjust="spacingAndGlyphs">(°)</tspan></text>
<text id="ty" transform="translate(131 1270.69) rotate(-90) scale(0.9975 1)" font-size="120" text-anchor="start">Intensity (a. u.)</text>
<text id="t10" transform="translate(369.5 1937.0) scale(0.9500 1)" font-size="95" text-anchor="middle">10</text>
<text id="t20" transform="translate(606.6 1937.0) scale(1.0000 1)" font-size="95" text-anchor="middle">20</text>
<text id="t30" transform="translate(843.7 1937.0) scale(1.0000 1)" font-size="95" text-anchor="middle">30</text>
<text id="t40" transform="translate(1080.8 1937.0) scale(1.0000 1)" font-size="95" text-anchor="middle">40</text>
<text id="t50" transform="translate(1317.9 1937.0) scale(1.0000 1)" font-size="95" text-anchor="middle">50</text>
<text id="t60" transform="translate(1555.0 1937.0) scale(1.0000 1)" font-size="95" text-anchor="middle">60</text>
<text id="t70" transform="translate(1792.1 1937.0) scale(1.0000 1)" font-size="95" text-anchor="middle">70</text>
<text id="t80" transform="translate(2029.2 1937.0) scale(1.0000 1)" font-size="95" text-anchor="middle">80</text>
<text id="t90" transform="translate(2266.3 1937.0) scale(1.0000 1)" font-size="95" text-anchor="middle">90</text>
</svg></body></html>
